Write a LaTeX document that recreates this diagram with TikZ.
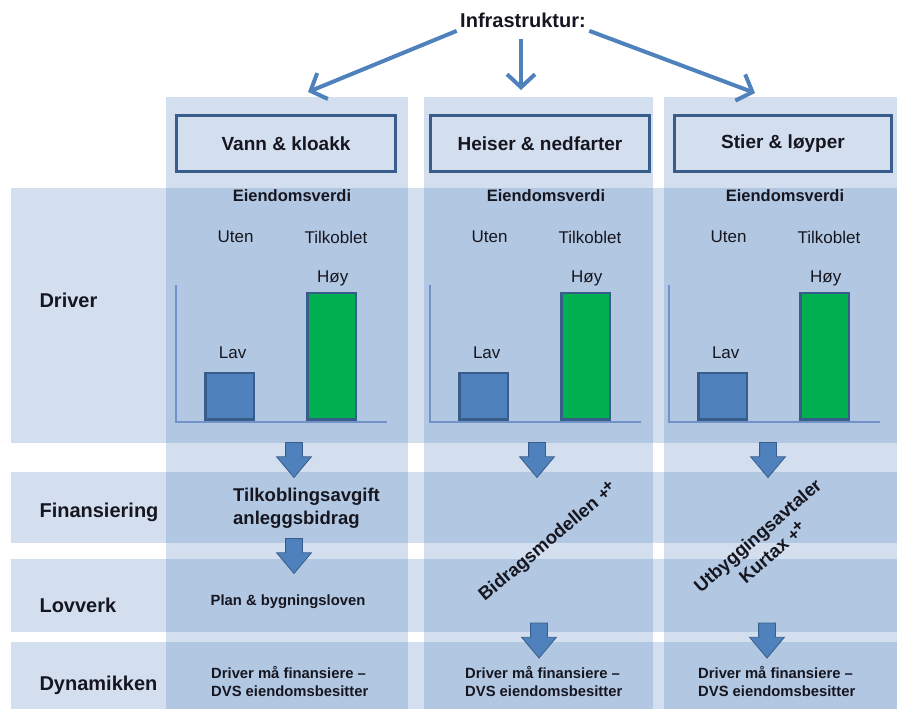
\documentclass[tikz,border=0pt]{standalone}
\usepackage{fontspec}
\setmainfont{Liberation Sans}
\usetikzlibrary{shapes.arrows, arrows.meta, positioning}

\definecolor{cellblue}{RGB}{79,129,189}
\definecolor{boxline}{RGB}{56,93,138}
\definecolor{bargreen}{RGB}{0,176,80}
\definecolor{axisblue}{RGB}{112,146,200}
\definecolor{inkblack}{RGB}{22,22,32}

\newcommand{\plusplus}{{\fontsize{17}{17}\selectfont\raisebox{0.05ex}{+}\hspace{-1.5pt}\raisebox{0.5ex}{+}}}

\begin{document}
\begin{tikzpicture}[
    x=1pt, y=-1pt,
    % Band and column styles
    band/.style={rectangle, fill=cellblue, fill opacity=0.25, draw=none, inner sep=0pt, anchor=north west},
    headbox/.style={rectangle, draw=boxline, line width=3pt, minimum height=56pt, font=\fontsize{19}{22}\selectfont\bfseries, text=inkblack},
    % Text styles
    rowlabel/.style={anchor=west, font=\fontsize{20}{24}\selectfont\bfseries, text=inkblack},
    charthead/.style={font=\fontsize{16.5}{20}\selectfont\bfseries, text=inkblack},
    chartlabel/.style={font=\fontsize{17}{20}\selectfont, text=inkblack},
    bodytext/.style={font=\fontsize{18.5}{23}\selectfont\bfseries, text=inkblack},
    smalltext/.style={font=\fontsize{14.8}{17.5}\selectfont\bfseries, text=inkblack},
    % Chart styles
    axisline/.style={axisblue, line width=1.5pt},
    bar/.style={rectangle, draw=boxline, line width=2.5pt, minimum width=48.5pt, inner sep=0pt, anchor=south west},
    % Arrow styles
    infraarrow/.style={-{Straight Barb[length=13pt, width=28pt]}, cellblue, line width=4pt},
    downarrow/.style={single arrow, draw=boxline, fill=cellblue, line width=0.8pt, rotate=-90,
        inner xsep=0pt, inner ysep=8pt, minimum height=35pt,
        single arrow head extend=9pt, single arrow tip angle=80}
]

    \useasboundingbox (0,0) rectangle (899,709);

    % === ROW BANDS ===
    \node[band, minimum width=886pt, minimum height=255pt] (driverband) at (11,188) {};
    \node[band, minimum width=886pt, minimum height=71pt] (finband) at (11,472) {};
    \node[band, minimum width=886pt, minimum height=73pt] (lovband) at (11,559) {};
    \node[band, minimum width=886pt, minimum height=67pt] (dynband) at (11,642) {};

    % === COLUMNS ===
    \node[band, minimum width=242pt, minimum height=612pt] (col1) at (166,97) {};
    \node[band, minimum width=229pt, minimum height=612pt] (col2) at (424,97) {};
    \node[band, minimum width=233pt, minimum height=612pt] (col3) at (664,97) {};

    % === HEADER ===
    \node[font=\fontsize{20}{24}\selectfont\bfseries, text=inkblack] (infra) at (523,20) {Infrastruktur:};

    \node[headbox, minimum width=219pt] (vann) at (286,143.5) {Vann \& kloakk};
    \node[headbox, minimum width=219pt] (heiser) at (540,143.5) {Heiser \& nedfarter};
    \node[headbox, minimum width=217pt] (stier) at (783,143.5) {Stier \& løyper};

    \coordinate (tip1) at (308,92);
    \coordinate (tip2) at (521,90);
    \coordinate (tip3) at (755,93);

    \draw[infraarrow] (infra.south west) -- (tip1);
    \draw[infraarrow, shorten <=8pt] (infra.south -| tip2) -- (tip2);
    \draw[infraarrow] (infra.south east) -- (tip3);

    % === ROW LABELS ===
    \node[rowlabel] (driver) at (36,300) {Driver};
    \node[rowlabel] (finans) at (36,512) {Finansiering};
    \node[rowlabel] (lovverk) at (36,605) {Lovverk};
    \node[rowlabel] (dynamikk) at (36,685) {Dynamikken};

    % === CHARTS ===
    \foreach \i/\dx in {1/0, 2/254, 3/493} {
        \begin{scope}[xshift=\dx pt]
            \node[charthead] (eiendom\i) at (292,196) {Eiendomsverdi};
            \draw[axisline] (176,285) -- (176,422) -- (387,422);
            \node[bar, fill=cellblue, minimum height=46.5pt] (barlav\i) at (204.2,420.8) {};
            \node[bar, fill=bargreen, minimum height=126.5pt] (barhoy\i) at (306.2,420.8) {};
            \node[chartlabel] (uten\i) at (235.5,237) {Uten};
            \node[chartlabel] (tilk\i) at (336,237) {Tilkoblet};
            \node[chartlabel, above=10pt of barlav\i, xshift=3pt] (lav\i) {Lav};
            \node[chartlabel, above=2pt of barhoy\i, xshift=1pt] (hoy\i) {Høy};
        \end{scope}
    }

    % === DOWN ARROWS ===
    \node[downarrow] (pil11) at (294,455) {};
    \node[downarrow] (pil21) at (537,455) {};
    \node[downarrow] (pil31) at (768,455) {};
    \node[downarrow] (pil12) at (294,551) {};
    \node[downarrow] (pil22) at (539,635.5) {};
    \node[downarrow] (pil32) at (767,635.5) {};

    % === CELL TEXTS ===
    \node[bodytext, anchor=west, align=left, inner sep=0pt] (avgift) at (233,508.5) {Tilkoblingsavgift\\anleggsbidrag};
    \node[smalltext] (planlov) at (288,602) {Plan \& bygningsloven};

    \node[bodytext, rotate=40] (bidrag) at (548,542) {Bidragsmodellen \plusplus};
    \node[bodytext, rotate=41, align=center] (utbygg) at (765,544) {Utbyggingsavtaler\\Kurtax \plusplus};

    \foreach \i/\x in {1/211, 2/465, 3/698} {
        \node[smalltext, anchor=west, align=left, inner sep=0pt] (finansiere\i) at (\x,681.5) {Driver må finansiere --\\DVS eiendomsbesitter};
    }

\end{tikzpicture}
\end{document}
